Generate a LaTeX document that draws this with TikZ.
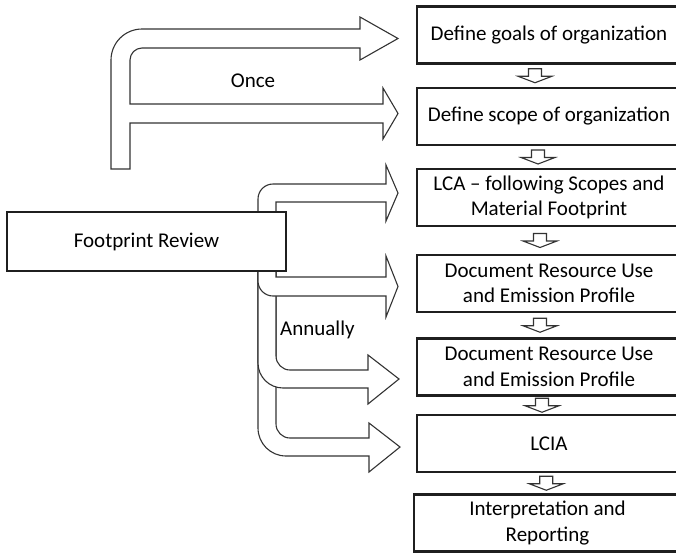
\documentclass[tikz,border=0pt]{standalone}
\usepackage{fontspec}
\setmainfont{Carlito}
\usetikzlibrary{calc}

\tikzset{
  stepbox/.style={draw=black!88, line width=2.8pt, fill=white,
    minimum width=264pt, minimum height=57pt, inner sep=0pt, align=center},
  blockarrow/.style={draw=black!80, line width=1.1pt, fill=white, line join=miter},
  lbl/.style={inner sep=0pt},
  smallarrow/.pic={
    \draw[blockarrow] (-6.5,-7) -- (6.5,-7) -- (6.5,0.5) -- (17,0.5)
      -- (0,7) -- (-17,0.5) -- (-6.5,0.5) -- cycle;
  }
}

\begin{document}
\begin{tikzpicture}[x=1pt, y=-1pt, font=\fontsize{21}{25.5}\selectfont]
\useasboundingbox (0,0) rectangle (676,554);
\clip (0,0) rectangle (676,554);

% process steps (column on the right)
\node[stepbox] (b1) at (549,35)    {Define goals of organization};
\node[stepbox] (b2) at (549,116.5) {Define scope of organization};
\node[stepbox] (b3) at (549,197.5) {LCA – following Scopes and\\Material Footprint};
\node[stepbox] (b4) at (549,283.5) {Document Resource Use\\and Emission Profile};
\node[stepbox] (b5) at (549,367)   {Document Resource Use\\and Emission Profile};
\node[stepbox] (b6) at (549,443.5) {LCIA};
\node[stepbox, minimum width=267pt] (b7) at (547.5,523) {Interpretation and\\Reporting};

% small arrows between consecutive steps
\pic at ($(b1.south)!.5!(b2.north)+(-14,0)$) {smallarrow};
\pic at ($(b2.south)!.5!(b3.north)+(-11,0)$) {smallarrow};
\pic at ($(b3.south)!.5!(b4.north)+(-9,0)$)  {smallarrow};
\pic at ($(b4.south)!.5!(b5.north)+(-9,0)$)  {smallarrow};
\pic at ($(b5.south)!.5!(b6.north)+(-7,0)$)  {smallarrow};
\pic at ($(b6.south)!.5!(b7.north)+(-2,0)$)  {smallarrow};

% one-time branch: goals and scope
\draw[blockarrow] (111,169) -- (111,60)
  .. controls (111,42.9) and (124.9,29) .. (142,29)
  -- (360,29) -- (360,17) -- (398,38.5) -- (360,60) -- (360,48)
  -- (142,48) .. controls (135.4,48) and (130,53.4) .. (130,60)
  -- (130,104) -- (383,104) -- (383,88) -- (398,113.5) -- (383,139)
  -- (383,123) -- (130,123) -- (130,169) -- cycle;
\node[lbl] (once) at (253,81) {Once};

% annual branch: drawn from the lowest arm upwards
\draw[blockarrow] (258,240) -- (258,428)
  .. controls (258,443.5) and (270.5,456) .. (286,456)
  -- (369,456) -- (369,472) -- (400,447) -- (369,423) -- (369,438)
  -- (290,438) .. controls (282.3,438) and (276,431.7) .. (276,424)
  -- (276,240) -- cycle;
\draw[blockarrow] (258,240) -- (258,363)
  .. controls (258,376.8) and (269.2,388) .. (283,388)
  -- (368,388) -- (368,404) -- (399,379) -- (368,355) -- (368,370)
  -- (290,370) .. controls (282.3,370) and (276,363.7) .. (276,356)
  -- (276,240) -- cycle;
\draw[blockarrow] (258,240) -- (258,281)
  .. controls (258,289.3) and (264.7,296) .. (273,296)
  -- (386,296) -- (386,317) -- (398,286.5) -- (386,256) -- (386,277)
  -- (276,277) -- (276,240) -- cycle;
\draw[blockarrow] (258,240) -- (258,199)
  .. controls (258,190.7) and (264.7,184) .. (273,184)
  -- (386,184) -- (386,165) -- (398,193) -- (386,221) -- (386,202)
  -- (276,202) -- (276,240) -- cycle;
\node[lbl, anchor=west] (annually) at (280,330) {Annually};

% review box
\node[stepbox, minimum width=279pt, minimum height=59pt] (fp) at (146.5,241.5) {Footprint Review};
\end{tikzpicture}
\end{document}
